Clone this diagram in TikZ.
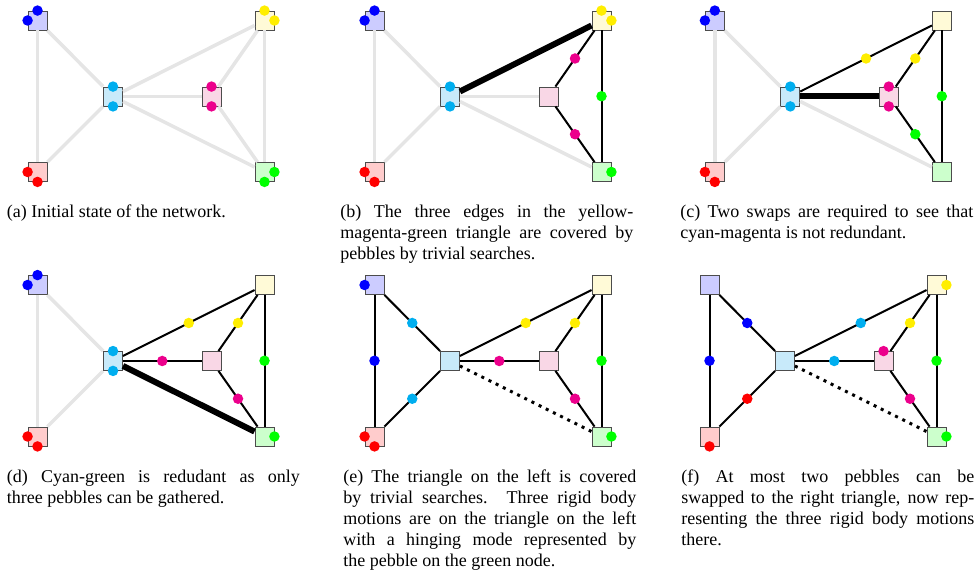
\documentclass[tikz,border=0pt]{standalone}
\usepackage{fontspec}
\setmainfont{Liberation Serif}
\usepackage{color}

\definecolor{fillB}{RGB}{204,204,255}
\definecolor{fillY}{RGB}{255,250,215}
\definecolor{fillC}{RGB}{200,234,250}
\definecolor{fillM}{RGB}{249,215,230}
\definecolor{fillR}{RGB}{255,204,204}
\definecolor{fillG}{RGB}{204,255,204}
\definecolor{pbB}{RGB}{0,0,255}
\definecolor{pbY}{RGB}{255,238,0}
\definecolor{pbC}{RGB}{0,174,239}
\definecolor{pbM}{RGB}{236,0,140}
\definecolor{pbR}{RGB}{255,0,0}
\definecolor{pbG}{RGB}{0,255,0}

\tikzset{
  vtx/.style={draw=black!70, line width=0.5pt, minimum size=11.4pt, inner sep=0pt},
  pebble/.style={circle, inner sep=0pt, minimum size=6.3pt, fill=#1},
  idle/.style={draw=black!10, line width=2.1pt},
  cover/.style={draw=black, line width=1.2pt},
  heavy/.style={draw=black, line width=3.6pt},
  redund/.style={draw=black, line width=1.8pt, dash pattern=on 1.8pt off 3pt},
  capt/.style={anchor=base west, inner sep=0pt, text width=175.8pt, align=justify,
    font=\fontsize{10.8}{12.6}\selectfont},
}

% the six bodies of the network
\newcommand{\netnodes}{%
  \node[vtx, fill=fillB] (bl) at (0,0) {};
  \node[vtx, fill=fillY] (ye) at (227,0) {};
  \node[vtx, fill=fillC] (cy) at (75.5,76) {};
  \node[vtx, fill=fillM] (ma) at (174,76) {};
  \node[vtx, fill=fillR] (re) at (0,151.5) {};
  \node[vtx, fill=fillG] (gr) at (227,151.5) {};
}
% pebble sitting on a node
\newcommand{\peb}[3]{\node[pebble=#3] (#1-#2) at (#1.#2) {};}

\begin{document}
\begin{tikzpicture}[x=0.6pt, y=-0.6pt]
\useasboundingbox (0,0) rectangle (979,575);

% (a)
\begin{scope}[shift={(37.5,20.5)}, name prefix=a-]
  \netnodes
  \draw[idle] (bl) -- (re);
  \draw[idle] (bl) -- (cy);
  \draw[idle] (re) -- (cy);
  \draw[idle] (cy) -- (ye);
  \draw[idle] (cy) -- (ma);
  \draw[idle] (cy) -- (gr);
  \draw[idle] (ma) -- (ye);
  \draw[idle] (ma) -- (gr);
  \draw[idle] (ye) -- (gr);
  \peb{bl}{north}{pbB} \peb{bl}{west}{pbB}
  \peb{ye}{north}{pbY} \peb{ye}{east}{pbY}
  \peb{cy}{north}{pbC} \peb{cy}{south}{pbC}
  \peb{ma}{north}{pbM} \peb{ma}{south}{pbM}
  \peb{re}{west}{pbR} \peb{re}{south}{pbR}
  \peb{gr}{east}{pbG} \peb{gr}{south}{pbG}
\end{scope}

% (b)
\begin{scope}[shift={(374.5,20.5)}, name prefix=b-]
  \netnodes
  \draw[idle] (bl) -- (re);
  \draw[idle] (bl) -- (cy);
  \draw[idle] (re) -- (cy);
  \draw[idle] (cy) -- (ma);
  \draw[idle] (cy) -- (gr);
  \draw[heavy] (cy) -- (ye);
  \draw[cover] (ma) -- node[pebble=pbM] (ma-ye) {} (ye);
  \draw[cover] (ma) -- node[pebble=pbM] (ma-gr) {} (gr);
  \draw[cover] (ye) -- node[pebble=pbG] (ye-gr) {} (gr);
  \peb{bl}{north}{pbB} \peb{bl}{west}{pbB}
  \peb{ye}{north}{pbY} \peb{ye}{east}{pbY}
  \peb{cy}{north}{pbC} \peb{cy}{south}{pbC}
  \peb{re}{west}{pbR} \peb{re}{south}{pbR}
  \peb{gr}{east}{pbG}
\end{scope}

% (c)
\begin{scope}[shift={(714.8,20.5)}, name prefix=c-]
  \netnodes
  \draw[idle] (bl) -- (re);
  \draw[idle] (bl) -- (cy);
  \draw[idle] (re) -- (cy);
  \draw[idle] (cy) -- (gr);
  \draw[heavy] (cy) -- (ma);
  \draw[cover] (cy) -- node[pebble=pbY] (cy-ye) {} (ye);
  \draw[cover] (ma) -- node[pebble=pbY] (ma-ye) {} (ye);
  \draw[cover] (ma) -- node[pebble=pbG] (ma-gr) {} (gr);
  \draw[cover] (ye) -- node[pebble=pbG] (ye-gr) {} (gr);
  \peb{bl}{north}{pbB} \peb{bl}{west}{pbB}
  \peb{cy}{north}{pbC} \peb{cy}{south}{pbC}
  \peb{ma}{north}{pbM} \peb{ma}{south}{pbM}
  \peb{re}{west}{pbR} \peb{re}{south}{pbR}
\end{scope}

% (d)
\begin{scope}[shift={(37.5,285)}, name prefix=d-]
  \netnodes
  \draw[idle] (bl) -- (re);
  \draw[idle] (bl) -- (cy);
  \draw[idle] (re) -- (cy);
  \draw[heavy] (cy) -- (gr);
  \draw[cover] (cy) -- node[pebble=pbY] (cy-ye) {} (ye);
  \draw[cover] (cy) -- node[pebble=pbM] (cy-ma) {} (ma);
  \draw[cover] (ma) -- node[pebble=pbY] (ma-ye) {} (ye);
  \draw[cover] (ma) -- node[pebble=pbM] (ma-gr) {} (gr);
  \draw[cover] (ye) -- node[pebble=pbG] (ye-gr) {} (gr);
  \peb{bl}{north}{pbB} \peb{bl}{west}{pbB}
  \peb{cy}{north}{pbC} \peb{cy}{south}{pbC}
  \peb{re}{west}{pbR} \peb{re}{south}{pbR}
  \peb{gr}{east}{pbG}
\end{scope}

% (e)
\begin{scope}[shift={(374.5,285)}, name prefix=e-]
  \netnodes
  \draw[cover] (bl) -- node[pebble=pbB] (bl-re) {} (re);
  \draw[cover] (bl) -- node[pebble=pbC] (bl-cy) {} (cy);
  \draw[cover] (re) -- node[pebble=pbC] (re-cy) {} (cy);
  \draw[cover] (cy) -- node[pebble=pbY] (cy-ye) {} (ye);
  \draw[cover] (cy) -- node[pebble=pbM] (cy-ma) {} (ma);
  \draw[cover] (ma) -- node[pebble=pbY] (ma-ye) {} (ye);
  \draw[cover] (ma) -- node[pebble=pbM] (ma-gr) {} (gr);
  \draw[cover] (ye) -- node[pebble=pbG] (ye-gr) {} (gr);
  \draw[redund] (cy) -- (gr);
  \peb{bl}{west}{pbB}
  \peb{re}{west}{pbR} \peb{re}{south}{pbR}
  \peb{gr}{east}{pbG}
\end{scope}

% (f)
\begin{scope}[shift={(709.5,285)}, name prefix=f-]
  \netnodes
  \draw[cover] (bl) -- node[pebble=pbB] (bl-re) {} (re);
  \draw[cover] (bl) -- node[pebble=pbB] (bl-cy) {} (cy);
  \draw[cover] (re) -- node[pebble=pbR] (re-cy) {} (cy);
  \draw[cover] (cy) -- node[pebble=pbC] (cy-ye) {} (ye);
  \draw[cover] (cy) -- node[pebble=pbC] (cy-ma) {} (ma);
  \draw[cover] (ma) -- node[pebble=pbY] (ma-ye) {} (ye);
  \draw[cover] (ma) -- node[pebble=pbM] (ma-gr) {} (gr);
  \draw[cover] (ye) -- node[pebble=pbG] (ye-gr) {} (gr);
  \draw[redund] (cy) -- (gr);
  \peb{re}{south}{pbR}
  \peb{ma}{north}{pbM}
  \peb{ye}{east}{pbY}
  \peb{gr}{east}{pbG}
\end{scope}

% captions
\node[capt] (capa) at (6.5,218) {(a) Initial state of the network.};
\node[capt] (capb) at (340,218) {(b) The three edges in the yellow-\linebreak
  magenta-green triangle are covered by\linebreak pebbles by trivial searches.};
\node[capt] (capc) at (680,218) {(c) Two swaps are required to see that\linebreak
  cyan-magenta is not redundant.};
\node[capt] (capd) at (6.5,483) {(d) Cyan-green is redudant as only\linebreak
  three pebbles can be gathered.};
\node[capt] (cape) at (343,483) {(e) The triangle on the left is covered\linebreak
  by trivial searches.  Three rigid body\linebreak motions are on the triangle
  on the left\linebreak with a hinging mode represented by\linebreak the pebble
  on the green node.};
\node[capt] (capf) at (681,483) {(f) At most two pebbles can be\linebreak
  swapped to the right triangle, now rep-\linebreak resenting the three rigid
  body motions\linebreak there.};

\end{tikzpicture}
\end{document}
